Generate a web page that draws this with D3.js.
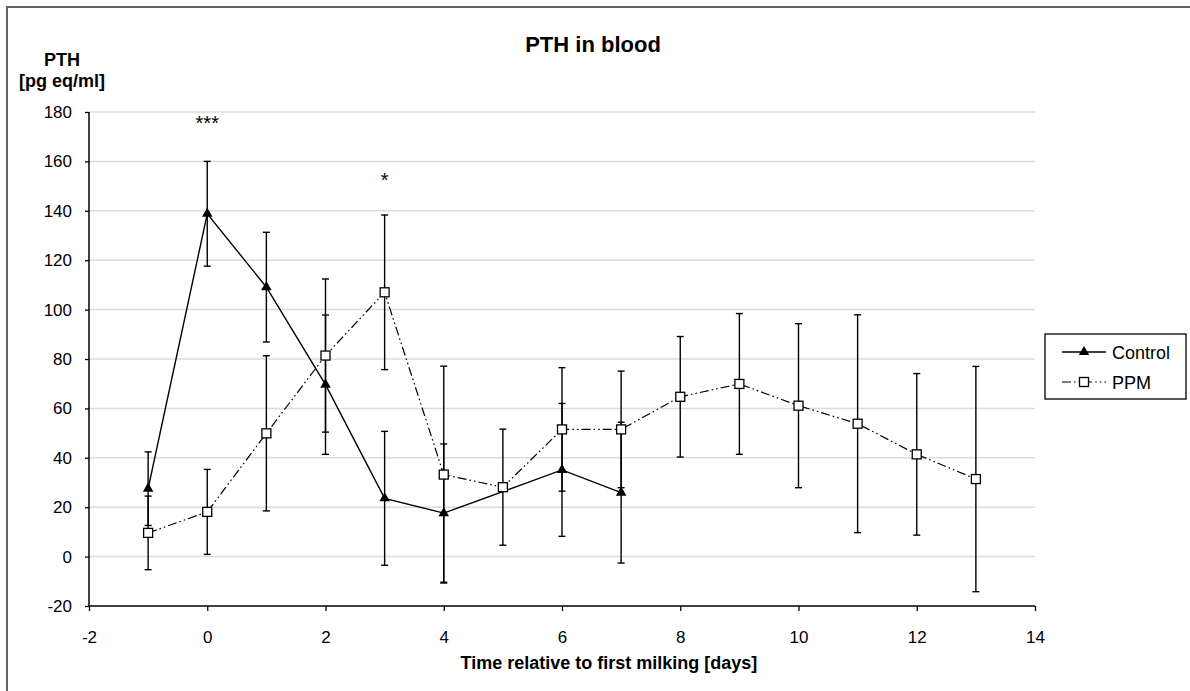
<!DOCTYPE html>
<html>
<head>
<meta charset="utf-8">
<script src="https://cdn.jsdelivr.net/npm/d3@7"></script>
<style>
  html, body { margin: 0; padding: 0; background: #fff; }
  svg { display: block; font-family: "Liberation Sans", Arial, sans-serif; }
</style>
</head>
<body>
<svg id="chart" width="1190" height="691"></svg>
<script>
// ---- data ----
const days = [-1, 0, 1, 2, 3, 4, 5, 6, 7, 8, 9, 10, 11, 12, 13];
const controlMean = [27.5, 138.8, 109.1, 69.6, 23.6, 17.6, null, 35.1, 25.9, null, null, null, null, null, null];
const controlErr  = [14.9, 21.2, 22.2, 28.2, 27.1, 28.0, null, 26.9, 28.5, null, null, null, null, null, null];
const ppmMean = [9.6, 18.1, 49.9, 81.4, 107.0, 33.2, 28.1, 51.5, 51.5, 64.7, 69.9, 61.1, 53.8, 41.4, 31.4];
const ppmErr  = [14.9, 17.2, 31.4, 31.0, 31.3, 43.9, 23.5, 25.0, 23.6, 24.4, 28.5, 33.2, 44.1, 32.7, 45.6];
const xTicks = [-2, 0, 2, 4, 6, 8, 10, 12, 14];
const yTicks = [-20, 0, 20, 40, 60, 80, 100, 120, 140, 160, 180];
const seriesNames = ["Control", "PPM"];
const annotations = [{day: 0, value: 180, text: "***"}, {day: 3, value: 157, text: "*"}];
const titleText = "PTH in blood";
const yLabelLines = ["PTH", "[pg eq/ml]"];
const xLabelText = "Time relative to first milking [days]";

// ---- layout ----
const svg = d3.select("#chart");
const x = d3.scaleLinear().domain([-2, 14]).range([89, 1035]);
const y = d3.scaleLinear().domain([-20, 180]).range([606, 112]);
const PPM_DASH = "9,3,1.6,3,1.6,3";
const fmt = d => String(d);

// outer border
svg.append("rect").attr("x", 7).attr("y", 7).attr("width", 1200).attr("height", 700)
  .attr("fill", "none").attr("stroke", "#555").attr("stroke-width", 1.8);

// gridlines
svg.append("g").selectAll("line").data(yTicks.filter(v => v > -20)).join("line")
  .attr("x1", x(-2)).attr("x2", x(14)).attr("y1", d => y(d)).attr("y2", d => y(d))
  .attr("stroke", "#dcdcdc").attr("stroke-width", 1.5);

// axes
const yAxis = d3.axisLeft(y).tickValues(yTicks).tickSize(4).tickPadding(13).tickFormat(fmt);
const gy = svg.append("g").attr("transform", `translate(${x(-2)},0)`).call(yAxis);
const xAxis = d3.axisBottom(x).tickValues(xTicks).tickSize(5).tickPadding(20).tickFormat(fmt);
const gx = svg.append("g").attr("transform", `translate(0,${y(-20)})`).call(xAxis);
[gx, gy].forEach(g => {
  g.select(".domain").attr("stroke", "#000").attr("stroke-width", 1.5);
  g.selectAll(".tick line").attr("stroke", "#000").attr("stroke-width", 1.3);
  g.selectAll(".tick text").attr("fill", "#000").attr("font-size", 17)
    .attr("font-family", "'Liberation Sans', Arial, sans-serif");
});
gx.select(".domain").attr("d", `M${x(-2)},0H${x(14)}`);
gy.select(".domain").attr("d", `M0,${y(-20)}V${y(180)}`);

// series data
const control = days.map((d, i) => ({day: d, v: controlMean[i], e: controlErr[i]})).filter(p => p.v !== null);
const ppm = days.map((d, i) => ({day: d, v: ppmMean[i], e: ppmErr[i]})).filter(p => p.v !== null);

const line = d3.line().x(p => x(p.day)).y(p => y(p.v));

function errorBars(data, cls) {
  const g = svg.append("g").attr("class", cls);
  g.selectAll("line.v").data(data).join("line").attr("class", "v")
    .attr("x1", p => x(p.day)).attr("x2", p => x(p.day))
    .attr("y1", p => y(p.v + p.e)).attr("y2", p => y(p.v - p.e))
    .attr("stroke", "#000").attr("stroke-width", 1.4);
  ["+", "-"].forEach(s => {
    const c = s === "+" ? "cu" : "cl";
    g.selectAll("line." + c).data(data).join("line").attr("class", c)
      .attr("x1", p => x(p.day) - 3.5).attr("x2", p => x(p.day) + 3.5)
      .attr("y1", p => y(s === "+" ? p.v + p.e : p.v - p.e))
      .attr("y2", p => y(s === "+" ? p.v + p.e : p.v - p.e))
      .attr("stroke", "#000").attr("stroke-width", 1.4);
  });
}

errorBars(ppm, "ppm-err");
errorBars(control, "control-err");

// lines
svg.append("path").datum(ppm).attr("d", line).attr("fill", "none")
  .attr("stroke", "#000").attr("stroke-width", 1.2).attr("stroke-dasharray", PPM_DASH);
svg.append("path").datum(control).attr("d", line).attr("fill", "none")
  .attr("stroke", "#000").attr("stroke-width", 1.4);

// markers
const tri = d3.symbol().type(d3.symbolTriangle).size(48);
svg.append("g").selectAll("path").data(control).join("path")
  .attr("d", tri).attr("transform", p => `translate(${x(p.day)},${y(p.v)})`)
  .attr("fill", "#000");
svg.append("g").selectAll("rect").data(ppm).join("rect")
  .attr("x", p => x(p.day) - 4.5).attr("y", p => y(p.v) - 4.5)
  .attr("width", 9).attr("height", 9)
  .attr("fill", "#fff").attr("stroke", "#000").attr("stroke-width", 1.3);

// significance annotations
svg.append("g").selectAll("text").data(annotations).join("text")
  .attr("x", a => x(a.day)).attr("y", a => y(a.value) + 18)
  .attr("text-anchor", "middle").attr("font-size", 20).text(a => a.text);

// title
svg.append("text").attr("x", 593).attr("y", 52).attr("text-anchor", "middle")
  .attr("font-size", 22).attr("font-weight", "bold").text(titleText);

// y label
svg.append("text").attr("x", 62).attr("y", 66).attr("text-anchor", "middle")
  .attr("font-size", 18).attr("font-weight", "bold").text(yLabelLines[0]);
svg.append("text").attr("x", 62).attr("y", 87).attr("text-anchor", "middle")
  .attr("font-size", 18).attr("font-weight", "bold").text(yLabelLines[1]);

// x label
svg.append("text").attr("x", 609).attr("y", 669).attr("text-anchor", "middle")
  .attr("font-size", 18).attr("font-weight", "bold").text(xLabelText);

// legend
const lg = svg.append("g");
lg.append("rect").attr("x", 1045).attr("y", 334).attr("width", 141).attr("height", 65)
  .attr("fill", "#fff").attr("stroke", "#000").attr("stroke-width", 1.3);
const legendRows = [
  {name: seriesNames[0], yy: 352, dash: null, marker: "tri"},
  {name: seriesNames[1], yy: 382, dash: PPM_DASH, marker: "sq"}
];
legendRows.forEach(r => {
  lg.append("line").attr("x1", 1062).attr("x2", 1106).attr("y1", r.yy).attr("y2", r.yy)
    .attr("stroke", "#000").attr("stroke-width", r.dash ? 1.2 : 1.4)
    .attr("stroke-dasharray", r.dash);
  if (r.marker === "tri") {
    lg.append("path").attr("d", tri).attr("transform", `translate(1084,${r.yy})`).attr("fill", "#000");
  } else {
    lg.append("rect").attr("x", 1084 - 4.5).attr("y", r.yy - 4.5).attr("width", 9).attr("height", 9)
      .attr("fill", "#fff").attr("stroke", "#000").attr("stroke-width", 1.3);
  }
  lg.append("text").attr("x", 1112).attr("y", r.yy + 6.5).attr("font-size", 18).text(r.name);
});
</script>
</body>
</html>
